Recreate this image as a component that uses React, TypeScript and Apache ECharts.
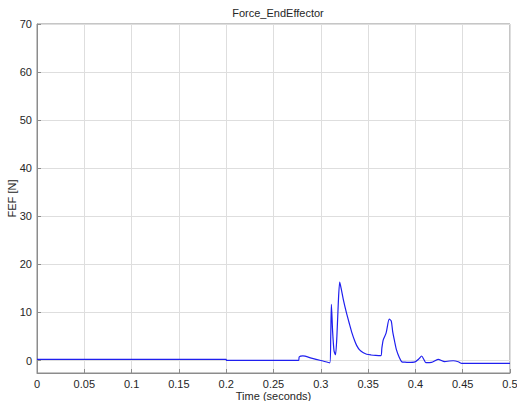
import React, { useEffect, useRef } from "react";
import * as echarts from "echarts";

// Simulated end-effector force over time
const timeValues = [
  0, 0.2, 0.2001, 0.2765, 0.2772, 0.281, 0.29, 0.3, 0.3095, 0.3105, 0.3112,
  0.3125, 0.314, 0.3155, 0.317, 0.3185, 0.32, 0.3215, 0.324, 0.327, 0.33,
  0.333, 0.336, 0.338, 0.341, 0.345, 0.3485, 0.353, 0.358, 0.3635, 0.3645,
  0.366, 0.369, 0.3724, 0.3745, 0.376, 0.378, 0.38, 0.383, 0.3855, 0.389,
  0.3925, 0.3996, 0.4035, 0.4066, 0.409, 0.411, 0.417, 0.424, 0.431, 0.436,
  0.44, 0.4453, 0.449, 0.5,
];
const forceValues = [
  0.25, 0.25, 0.02, 0.02, 0.75, 0.95, 0.5, 0.0, -0.5, 5.0, 11.7, 6.0, 2.0,
  1.2, 5.0, 12.0, 16.3, 15.0, 12.5, 10.0, 7.8, 5.7, 4.0, 3.1, 2.2, 1.6, 1.3,
  1.15, 1.05, 1.0, 2.5, 4.3, 5.7, 8.6, 8.2, 6.0, 4.0, 2.2, 0.6, -0.25, -0.35,
  -0.4, -0.3, 0.3, 0.94, 0.2, -0.45, -0.4, 0.25, -0.25, -0.1, -0.05, -0.25,
  -0.6, -0.6,
];
const yTickValues = [0, 10, 20, 30, 40, 50, 60, 70];

const chartTitle = "Force_EndEffector";
const xAxisTitle = "Time (seconds)";
const yAxisTitle = "FEF [N]";

const FONT = "'Liberation Sans', Arial, Helvetica, sans-serif";
const TEXT_COLOR = "#262626";
const AXIS_COLOR = "#8c8c8c";
const GRID_COLOR = "#dedede";

export default function App() {
  const ref = useRef<HTMLDivElement>(null);

  useEffect(() => {
    if (!ref.current) return;
    const chart = echarts.init(ref.current, undefined, { renderer: "svg" });
    const points = timeValues.map((t, i) => [t, forceValues[i]]);

    chart.setOption({
      animation: false,
      backgroundColor: "#ffffff",
      title: {
        text: chartTitle,
        left: 273,
        top: 2,
        textAlign: "center",
        textStyle: {
          fontFamily: FONT,
          fontSize: 11,
          fontWeight: "normal",
          color: TEXT_COLOR,
        },
      },
      grid: {
        left: 37,
        top: 24,
        right: 7,
        bottom: 28,
        containLabel: false,
        outerBoundsMode: "none",
        show: true,
        borderColor: AXIS_COLOR,
        borderWidth: 1,
        backgroundColor: "transparent",
      },
      xAxis: {
        type: "value",
        min: 0,
        max: 0.5,
        interval: 0.05,
        name: xAxisTitle,
        nameLocation: "middle",
        nameGap: 17,
        nameMoveOverlap: false,
        nameTextStyle: { fontFamily: FONT, fontSize: 11, color: TEXT_COLOR },
        axisLine: { show: true, onZero: false, lineStyle: { color: AXIS_COLOR } },
        axisTick: { show: true, inside: true, length: 4, lineStyle: { color: AXIS_COLOR } },
        axisLabel: {
          fontFamily: FONT,
          fontSize: 11,
          color: TEXT_COLOR,
          margin: 5,
        },
        splitLine: { show: true, lineStyle: { color: GRID_COLOR, width: 1 } },
      },
      yAxis: {
        type: "value",
        min: -2.6,
        max: 70,
        name: yAxisTitle,
        nameLocation: "middle",
        nameGap: 20,
        nameMoveOverlap: false,
        nameTextStyle: { fontFamily: FONT, fontSize: 11, color: TEXT_COLOR },
        axisLine: { show: true, onZero: false, lineStyle: { color: AXIS_COLOR } },
        axisTick: {
          show: true,
          inside: true,
          length: 4,
          customValues: yTickValues,
          lineStyle: { color: AXIS_COLOR },
        },
        axisLabel: {
          fontFamily: FONT,
          fontSize: 11,
          color: TEXT_COLOR,
          margin: 5,
          customValues: yTickValues,
        },
        splitLine: { show: true, lineStyle: { color: GRID_COLOR, width: 1 } },
      },
      series: [
        {
          type: "line",
          data: points,
          showSymbol: false,
          smooth: 0.25,
          lineStyle: { color: "#1f1fef", width: 1.2 },
        },
      ],
    });

    return () => chart.dispose();
  }, []);

  return (
    <div
      ref={ref}
      style={{ position: "fixed", left: 0, top: 0, width: 517, height: 401 }}
    />
  );
}
